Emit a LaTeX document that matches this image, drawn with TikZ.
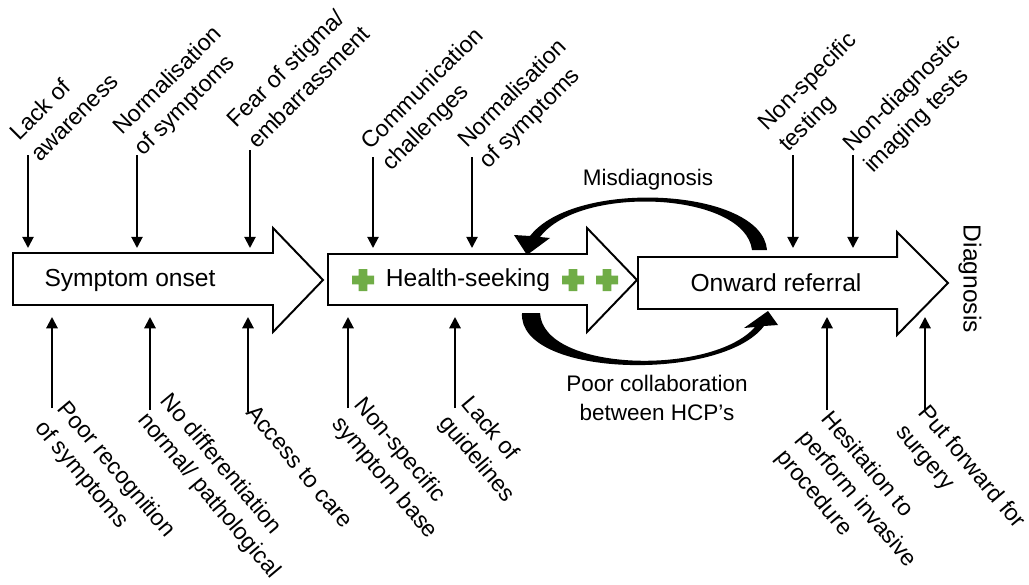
\documentclass[tikz,border=0pt]{standalone}
\usepackage{fontspec}
\setmainfont{Liberation Sans}
\usepackage{xcolor}
\usepackage{tikz}
\usetikzlibrary{arrows.meta}
\definecolor{plusgreen}{RGB}{112,173,71}

\begin{document}
\begin{tikzpicture}[
    x=0.025cm, y=-0.025cm,
    stage/.style={draw, line width=1.4pt, fill=white, line join=miter},
    stagename/.style={font=\fontsize{17.5}{21}\selectfont, inner sep=0pt},
    uplab/.style={rotate=45, anchor=base west, align=left, inner sep=0pt, font=\fontsize{16.5}{21}\selectfont},
    downlab/.style={rotate=-50, anchor=base west, align=left, inner sep=0pt, font=\fontsize{16.5}{21}\selectfont},
    looplab/.style={font=\fontsize{16}{20}\selectfont, align=center, inner sep=0pt},
    pin/.style={-{Triangle[length=8pt,width=8pt]}, line width=1.4pt},
    greenplus/.pic={\fill[plusgreen] (-11,-4.3) rectangle (11,4.3) (-4.3,-11) rectangle (4.3,11);}
]
\useasboundingbox (0,0) rectangle (1029,584);

% === STAGES ===
\draw[stage] (13,253) -- (273,253) -- (273,228) -- (323,280) -- (273,332) -- (273,305) -- (13,305) -- cycle;
\draw[stage] (328,254) -- (587,254) -- (587,228) -- (637,280) -- (587,332) -- (587,305) -- (328,305) -- cycle;
\draw[stage] (638,257) -- (897,257) -- (897,232) -- (948,283) -- (897,335) -- (897,309) -- (638,309) -- cycle;

\node[stagename] (onset) at (130,280) {Symptom onset};
\node[stagename] (seek) at (468,280) {Health-seeking};
\node[stagename] (refer) at (776,283) {Onward referral};
\node[stagename, rotate=-90] (diag) at (970,279) {Diagnosis};

\pic at (363,280) {greenplus};
\pic at (573,280) {greenplus};
\pic at (607,280) {greenplus};

\coordinate (flowtop) at (0,248);
\coordinate (flowbot) at (0,317);

% === BARRIERS ABOVE ===
\coordinate (t1) at (28,155);
\coordinate (t2) at (137,155);
\coordinate (t3) at (250,150);
\coordinate (t4) at (373,157);
\coordinate (t5) at (472,157);
\coordinate (t6) at (793,155);
\coordinate (t7) at (853,155);

\node[uplab] (aware) at (40,163) {Lack of\\awareness};
\node[uplab] (normal_a) at (143,157) {Normalisation\\of symptoms};
\node[uplab] (stigma) at (257,150) {Fear of stigma/\\embarrassment};
\node[uplab] (comm) at (391,172) {Communication\\challenges};
\node[uplab] (normal_b) at (488,170) {Normalisation\\of symptoms};
\node[uplab] (testing) at (788,153) {Non-specific\\testing};
\node[uplab] (imaging) at (873,174) {Non-diagnostic\\imaging tests};

% === BARRIERS BELOW ===
\coordinate (b1) at (52,408);
\coordinate (b2) at (150,410);
\coordinate (b3) at (248,412);
\coordinate (b4) at (348,408);
\coordinate (b5) at (455,408);
\coordinate (b6) at (827,410);
\coordinate (b7) at (925,410);

\node[downlab] (recog) at (34,428) {Poor recognition\\of symptoms};
\node[downlab] (differ) at (137,420) {No differentiation\\normal/ pathological};
\node[downlab] (access) at (245,413) {Access to care};
\node[downlab] (symbase) at (331,424) {Non-specific\\symptom base};
\node[downlab] (guide) at (438,423) {Lack of\\guidelines};
\node[downlab] (hesit) at (775,457) {Hesitation to\\perform invasive\\procedure};
\node[downlab] (surgery) at (895,432) {Put forward for\\surgery};

% === ARROWS ===
\foreach \p in {t1,t2,t3,t4,t5,t6,t7}
  \draw[pin] (\p) -- (\p |- flowtop);
\foreach \p in {b1,b2,b3,b4,b5,b6,b7}
  \draw[pin] (\p) -- (\p |- flowbot);

% === LOOPS ===
\fill (767,250) .. controls (762,188) and (575,178) .. (530,236) -- (514,235) -- (527,255) -- (550,238) -- (540,237)
  .. controls (580,184) and (745,192) .. (752,250) -- cycle;
\fill (522,313) .. controls (518,378) and (722,382) .. (764,326) -- (778,325) -- (768,311) -- (744,328) -- (755,327)
  .. controls (712,376) and (543,372) .. (540,313) -- cycle;

\node[looplab] (misdiag) at (648,180) {Misdiagnosis};
\node[looplab] (collab) at (657,398) {Poor collaboration\\between HCP’s};

\end{tikzpicture}
\end{document}
